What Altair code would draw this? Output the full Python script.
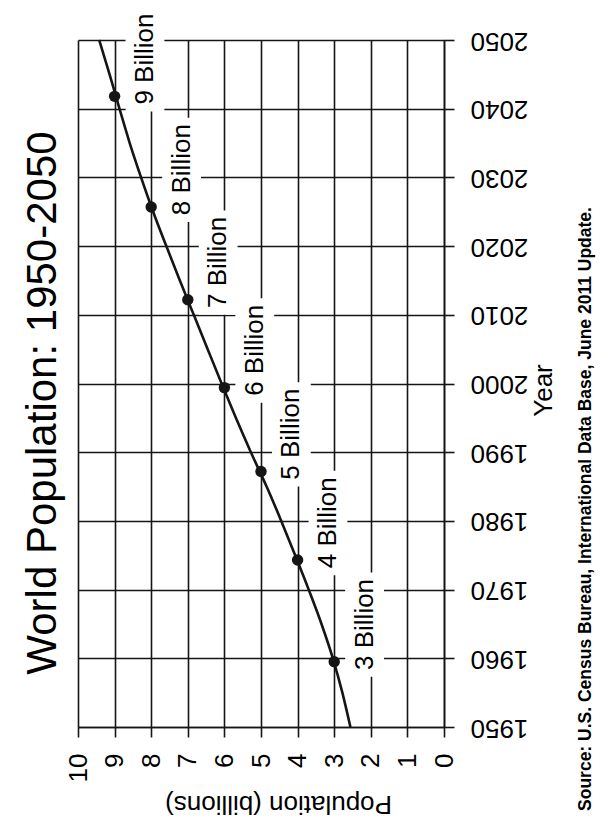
import altair as alt
import pandas as pd

# ---- data ----
line_years = [1950, 1955, 1960, 1965, 1970, 1975, 1980, 1985, 1990, 1995, 2000,
              2005, 2010, 2015, 2020, 2025, 2030, 2035, 2040, 2045, 2050]
line_pop = [2.557, 2.777, 3.037, 3.347, 3.697, 4.067, 4.447, 4.847, 5.277, 5.687, 6.077,
            6.457, 6.837, 7.217, 7.587, 7.947, 8.277, 8.587, 8.867, 9.137, 9.42]

milestone_pop = [3, 4, 5, 6, 7, 8, 9]
milestone_year = [1959.5, 1974.3, 1987.2, 1999.4, 2012.2, 2025.7, 2041.8]
milestone_label = ["3 Billion", "4 Billion", "5 Billion", "6 Billion",
                   "7 Billion", "8 Billion", "9 Billion"]

pop_ticks = list(range(0, 11))
year_ticks = list(range(1950, 2051, 10))

title_text = "World Population: 1950-2050"
source_text = "Source: U.S. Census Bureau, International Data Base, June 2011 Update."

FONT = "Liberation Sans"
INK = "#151515"

W, H = 366, 687
PL, PT, PR, PB = 70, 32, 157, 97
X_MIN, X_MAX = 0, 10
Y_MIN, Y_MAX = 1950, 2050

line_df = pd.DataFrame({"year": line_years, "pop": line_pop})
ms_df = pd.DataFrame({"year": milestone_year, "pop": milestone_pop, "label": milestone_label})
ms_df["tx"] = ms_df["pop"] - 0.83
ms_df["ty"] = ms_df["year"] - 1.2
ms_df["bx0"] = ms_df["pop"] - 1.36
ms_df["bx1"] = ms_df["pop"] - 0.30
ms_df["by0"] = ms_df["ty"] - 1.0
ms_df["by1"] = ms_df["ty"] + 14.2

x_scale = alt.Scale(domain=[X_MIN, X_MAX], reverse=True, nice=False, zero=False)
y_scale = alt.Scale(domain=[Y_MIN, Y_MAX], nice=False, zero=False)

x_axis = alt.Axis(
    orient="bottom", values=pop_ticks, grid=True, gridColor=INK, gridWidth=1.6,
    gridOpacity=1, domainColor=INK, domainWidth=1.6, tickColor=INK, tickWidth=1.6,
    tickSize=10, labelAngle=270, labelAlign="right", labelBaseline="middle",
    labelFont=FONT, labelFontSize=26, labelColor="#000", labelPadding=16,
    labelOverlap=False, labelFlush=False, labelBound=False,
    title="Population (billions)", titleAngle=180, titleFont=FONT,
    titleFontSize=26, titleFontWeight="normal", titleColor="#000",
    titleAlign="center", titleBaseline="middle", titleX=200, titleY=76,
)
y_axis = alt.Axis(
    orient="right", values=year_ticks, format="d", grid=True, gridColor=INK,
    gridWidth=1.6, gridOpacity=1, domainColor=INK, domainWidth=1.6,
    tickColor=INK, tickWidth=1.6, tickSize=10, labelAngle=180,
    labelAlign="right", labelBaseline="middle", labelFont=FONT,
    labelFontSize=26, labelColor="#000", labelPadding=16, labelOverlap=False,
    labelFlush=False, labelBound=False, title="Year", titleAngle=270,
    titleFont=FONT, titleFontSize=26, titleFontWeight="normal",
    titleColor="#000", titleAlign="center", titleBaseline="middle",
    titleX=99, titleY=350,
)

def X(field):
    return alt.X(f"{field}:Q", scale=x_scale, axis=x_axis)

def Y(field):
    return alt.Y(f"{field}:Q", scale=y_scale, axis=y_axis)

line = alt.Chart(line_df).mark_line(color=INK, strokeWidth=2.6, interpolate="monotone").encode(
    x=X("pop"), y=Y("year"), order="year:Q")

dots = alt.Chart(ms_df).mark_point(filled=True, color=INK, size=130, opacity=1).encode(
    x=X("pop"), y=Y("year"))

boxes = alt.Chart(ms_df).mark_rect(color="white", opacity=1).encode(
    x=X("bx0"), x2="bx1", y=Y("by0"), y2="by1")

labels = alt.Chart(ms_df).mark_text(
    angle=270, align="left", baseline="middle", font=FONT, fontSize=26, color="#000"
).encode(x=X("tx"), y=Y("ty"), text="label:N")

deco_df = pd.DataFrame({"t": [title_text], "s": [source_text]})

title = alt.Chart(deco_df).mark_text(
    angle=270, align="center", baseline="middle", font=FONT, fontSize=42, color="#000"
).encode(x=alt.value(-35), y=alt.value(363), text="t:N")

source = alt.Chart(deco_df).mark_text(
    angle=270, align="center", baseline="middle", font=FONT, fontSize=17.5,
    fontWeight="bold", color="#000"
).encode(x=alt.value(508), y=alt.value(469), text="s:N")

chart = alt.layer(line, dots, boxes, labels, title, source).properties(
    width=W, height=H,
    autosize=alt.AutoSizeParams(type="none"),
    padding={"left": PL, "top": PT, "right": PR, "bottom": PB},
).configure_view(stroke=None).configure(background="white")

chart.save("out.html", embed_options={"renderer": "svg", "actions": False})
